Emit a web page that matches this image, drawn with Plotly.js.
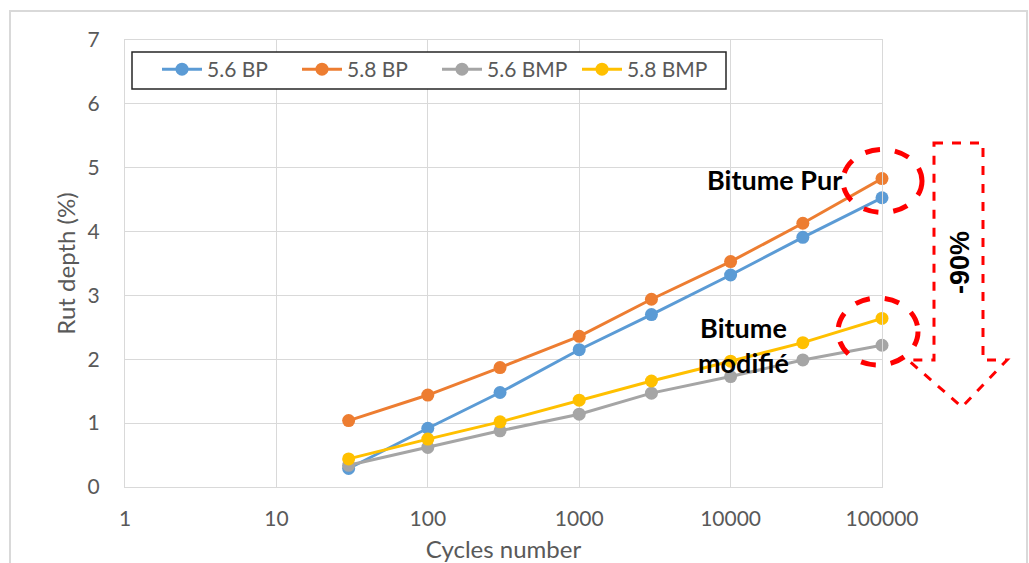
<!DOCTYPE html>
<html>
<head>
<meta charset="utf-8">
<script src="https://cdn.plot.ly/plotly-3.0.1.min.js"></script>
<style>html,body{margin:0;padding:0;background:#fff;}#chart{width:1029px;height:563px;}</style>
</head>
<body>
<div id="chart"></div>
<script>
// ---- data ----
var cycles = [30, 100, 300, 1000, 3000, 10000, 30000, 100000];
var bp56  = [0.29, 0.92, 1.48, 2.15, 2.70, 3.32, 3.91, 4.53];
var bp58  = [1.04, 1.44, 1.87, 2.36, 2.94, 3.53, 4.13, 4.83];
var bmp56 = [0.34, 0.62, 0.88, 1.14, 1.47, 1.73, 1.99, 2.22];
var bmp58 = [0.44, 0.75, 1.02, 1.36, 1.66, 1.97, 2.26, 2.64];
var seriesNames = ['5.6 BP', '5.8 BP', '5.6 BMP', '5.8 BMP'];
var xTickVals = [1, 10, 100, 1000, 10000, 100000];
var xTickText = ['1', '10', '100', '1000', '10000', '100000'];
var yTickVals = [0, 1, 2, 3, 4, 5, 6, 7];

// ---- layout geometry (pixels) ----
var W = 1029, H = 563;
var L = 125, R = 882, T = 40, B = 487;
function px(x) { return (x - L) / (R - L); }
function py(y) { return (B - y) / (B - T); }

var colors = ['#5B9BD5', '#ED7D31', '#A5A5A5', '#FFC000'];
var ys = [bp56, bp58, bmp56, bmp58];
var traces = ys.map(function (v, i) {
  return {
    x: cycles, y: v, name: seriesNames[i], type: 'scatter', mode: 'lines+markers',
    line: {color: colors[i], width: 3},
    marker: {color: colors[i], size: 13},
    cliponaxis: false
  };
});

var font = 'Lato, "Open Sans", sans-serif';
var red = '#FF0000';
function pathFrom(pts) {
  return 'M' + pts.map(function (p) { return px(p[0]).toFixed(5) + ',' + py(p[1]).toFixed(5); }).join(' L') + ' Z';
}
var arrowPts = [[934,143],[983,143],[983,360],[1007,360],[962,407],[908,360],[934,360]];

var layout = {
  width: W, height: H,
  margin: {l: L, r: W - R, t: T, b: H - B, pad: 0},
  paper_bgcolor: '#ffffff', plot_bgcolor: '#ffffff',
  font: {family: font, color: '#595959', size: 20},
  showlegend: true,
  legend: {
    orientation: 'h', x: px(157), y: py(49), xanchor: 'left', yanchor: 'top',
    bgcolor: 'rgba(0,0,0,0)', borderwidth: 0,
    font: {family: font, size: 21, color: '#595959'},
    itemwidth: 40, traceorder: 'normal', entrywidth: 85
  },
  xaxis: {
    type: 'log', range: [0, 5],
    tickvals: xTickVals, ticktext: xTickText,
    showgrid: true, gridcolor: '#D9D9D9', gridwidth: 1,
    showline: true, linecolor: '#D9D9D9', linewidth: 1, mirror: true,
    zeroline: false, ticks: '',
    tickfont: {family: font, size: 21, color: '#595959'},
    ticklabelstandoff: 13,
    title: {text: 'Cycles number', font: {family: font, size: 24, color: '#595959'}, standoff: 11}
  },
  yaxis: {
    range: [0, 7], tickvals: yTickVals,
    showgrid: true, gridcolor: '#D9D9D9', gridwidth: 1,
    showline: true, linecolor: '#D9D9D9', linewidth: 1, mirror: true,
    zeroline: false, ticks: '',
    tickfont: {family: font, size: 21, color: '#595959'},
    ticklabelstandoff: 20,
    title: {text: 'Rut depth (%)', font: {family: font, size: 24, color: '#595959'}, standoff: 5}
  },
  shapes: [
    {type: 'rect', xref: 'paper', yref: 'paper', x0: px(10), x1: px(1027), y0: py(575), y1: py(11),
     line: {color: '#D9D9D9', width: 2}, fillcolor: 'rgba(0,0,0,0)', layer: 'below'},
    {type: 'rect', xref: 'paper', yref: 'paper', x0: px(132), x1: px(726), y0: py(89), y1: py(52),
     line: {color: '#262626', width: 1.5}, fillcolor: '#ffffff', layer: 'above'},
    {type: 'circle', xref: 'paper', yref: 'paper', x0: px(843), x1: px(922), y0: py(212.5), y1: py(149.5),
     line: {color: red, width: 5, dash: 'dash'}},
    {type: 'circle', xref: 'paper', yref: 'paper', x0: px(838), x1: px(918), y0: py(365), y1: py(298),
     line: {color: red, width: 5, dash: 'dash'}},
    {type: 'path', xref: 'paper', yref: 'paper', path: pathFrom(arrowPts),
     line: {color: red, width: 3, dash: 'dash'}, fillcolor: 'rgba(0,0,0,0)'}
  ],
  annotations: [
    {xref: 'paper', yref: 'paper', x: px(844), y: py(180), xanchor: 'right', yanchor: 'middle',
     text: '<b>Bitume Pur</b>', showarrow: false, font: {family: font, size: 27, color: '#000000'}},
    {xref: 'paper', yref: 'paper', x: px(743), y: py(345), xanchor: 'center', yanchor: 'middle',
     text: '<b>Bitume<br>modifié</b>', showarrow: false, font: {family: font, size: 27, color: '#000000'}},
    {xref: 'paper', yref: 'paper', x: px(960), y: py(263), xanchor: 'center', yanchor: 'middle',
     text: '<b>-90%</b>', textangle: -90, showarrow: false,
     font: {family: '"Liberation Sans", Arial, sans-serif', size: 27, color: '#000000'}}
  ]
};

Plotly.newPlot('chart', traces, layout, {displayModeBar: false, staticPlot: true});
</script>
</body>
</html>
